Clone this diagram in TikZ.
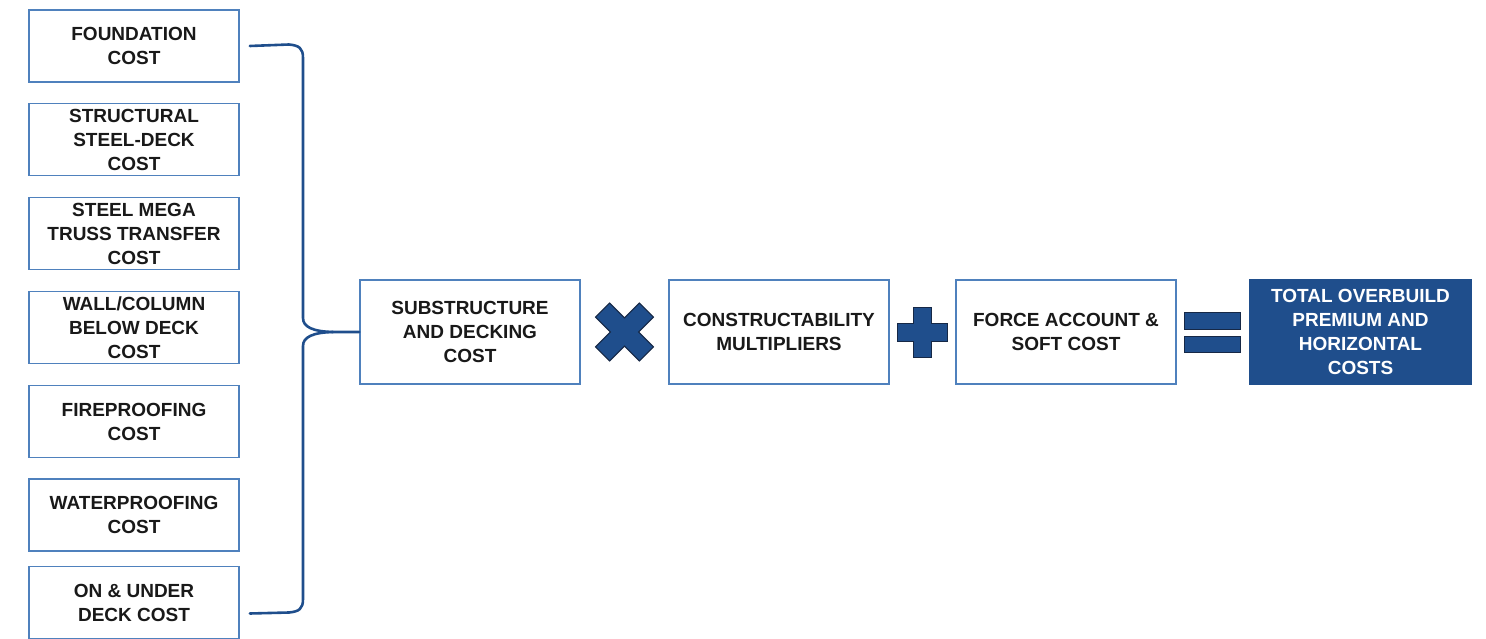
\documentclass[tikz,border=0pt]{standalone}
\usepackage{fontspec}
\setmainfont{Liberation Sans}
\definecolor{boxblue}{RGB}{79,129,189}
\definecolor{darkblue}{RGB}{31,78,140}
\definecolor{signline}{RGB}{22,40,70}
\begin{document}
\begin{tikzpicture}[
    x=1pt,
    y=-1pt,
    costbox/.style={draw=boxblue, line width=1.6pt, fill=white, align=center,
        inner sep=0pt, font=\bfseries\fontsize{19}{24}\selectfont, text=black!90},
    partbox/.style={costbox, minimum width=210, minimum height=72},
    stagebox/.style={costbox, minimum width=220, minimum height=104},
    resultbox/.style={stagebox, draw=darkblue, fill=darkblue, text=white, minimum width=222},
    bracket/.style={draw=darkblue, line width=2.6pt, line cap=round},
    opsign/.style={draw=signline, line width=1pt, fill=darkblue, line join=miter}
]

\useasboundingbox (0,0) rectangle (1486,639);

% Cost items on the left
\node[partbox] (part1) at (134,46) {FOUNDATION\\COST};
\node[partbox] (part2) at (134,139.5) {STRUCTURAL\\STEEL-DECK\\COST};
\node[partbox] (part3) at (134,233.5) {STEEL MEGA\\TRUSS TRANSFER\\COST};
\node[partbox] (part4) at (134,327.5) {WALL/COLUMN\\BELOW DECK\\COST};
\node[partbox] (part5) at (134,421.5) {FIREPROOFING\\COST};
\node[partbox] (part6) at (134,515) {WATERPROOFING\\COST};
\node[partbox] (part7) at (134,602.5) {ON \& UNDER\\DECK COST};

% Chain of stages
\node[stagebox] (sub) at (470,332) {SUBSTRUCTURE\\AND DECKING\\COST};
\node[stagebox] (con) at (779,332) {CONSTRUCTABILITY\\MULTIPLIERS};
\node[stagebox] (force) at (1066,332) {FORCE ACCOUNT \&\\SOFT COST};
\node[resultbox] (total) at (1360.5,332) {TOTAL OVERBUILD\\PREMIUM AND\\HORIZONTAL\\COSTS};

% Brace collecting the items
\draw[bracket] ([xshift=10]part1.east) -- (289,44.5)
    .. controls (299,45.5) and (303,48) .. (303,58) -- (303,318)
    .. controls (303,327) and (313,331.5) .. (333,332) -- (sub.west);
\draw[bracket] ([shift={(10,11)}]part7.east) -- (289,612.5)
    .. controls (299,611.5) and (303,609) .. (303,599) -- (303,346)
    .. controls (303,337) and (313,332.5) .. (333,332);

% Operators
\path (sub.east) -- (con.west) coordinate[midway] (times);
\path (con.east) -- (force.west) coordinate[midway] (plus);
\path (force.east) -- (total.west) coordinate[midway] (equals);

\draw[opsign, shift={(times)}, rotate=45]
    (10,10) -- (31,10) -- (31,-10) -- (10,-10) -- (10,-31) -- (-10,-31)
    -- (-10,-10) -- (-31,-10) -- (-31,10) -- (-10,10) -- (-10,31) -- (10,31) -- cycle;
\draw[opsign, shift={(plus)}]
    (9,9) -- (25,9) -- (25,-9) -- (9,-9) -- (9,-25) -- (-9,-25)
    -- (-9,-9) -- (-25,-9) -- (-25,9) -- (-9,9) -- (-9,25) -- (9,25) -- cycle;
\draw[opsign, shift={(equals)}] (-28,-20) rectangle (28,-3);
\draw[opsign, shift={(equals)}] (-28,4) rectangle (28,20);

\end{tikzpicture}
\end{document}
